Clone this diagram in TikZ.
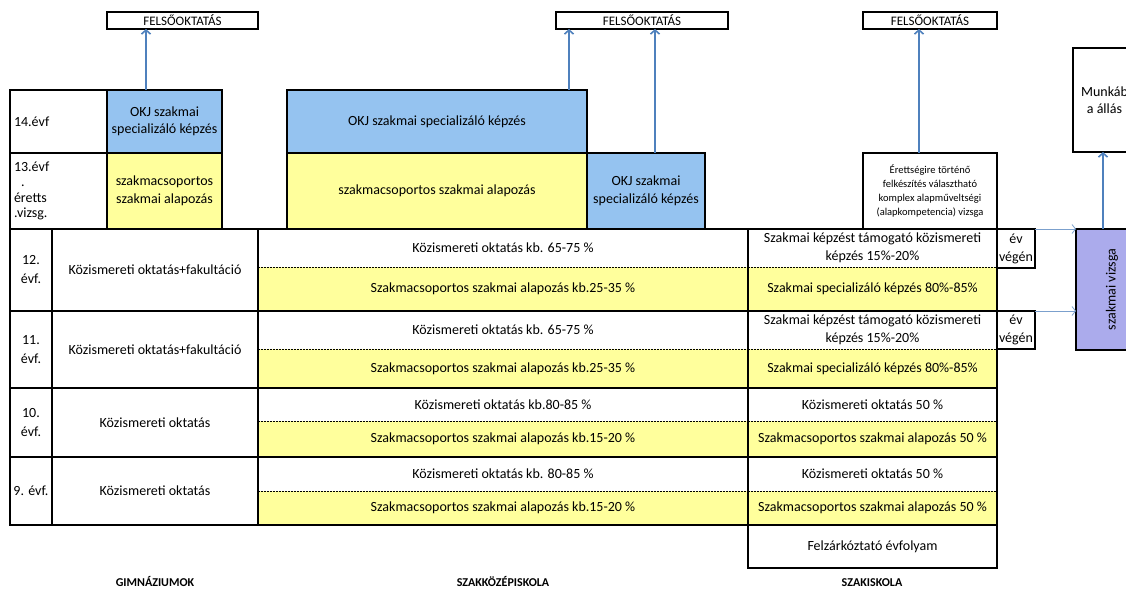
\documentclass[tikz,border=0pt]{standalone}
\usepackage{fontspec}
\setmainfont{Carlito}
\usepackage{xcolor}
\usepackage{tikz}
\usetikzlibrary{arrows.meta}
\definecolor{okjblue}{HTML}{95C3F0}
\definecolor{alapyellow}{HTML}{FFFF9C}
\definecolor{vizsgalila}{HTML}{ABABEC}
\definecolor{nyilkek}{HTML}{4F81BD}
\tikzset{
    cellbox/.style={
        draw,
        line width=1.5pt,
        inner sep=0pt,
        outer sep=0pt,
        align=center,
        anchor=north west,
        font=\fontsize{14}{17.5}\selectfont
    },
    halfcell/.style={
        inner sep=0pt,
        outer sep=0pt,
        align=center,
        anchor=north west,
        minimum width=490pt,
        font=\fontsize{14}{17.5}\selectfont
    },
    felsobox/.style={
        line width=1.1pt,
        minimum height=17pt,
        font=\fontsize{13}{15}\selectfont
    },
    blockframe/.style={line width=1.5pt},
    dotline/.style={line width=0.7pt, dash pattern=on 1.6pt off 1.4pt},
    uparrow/.style={draw=nyilkek, line width=1.6pt, -{Straight Barb[length=4pt,width=9pt]}},
    sidearrow/.style={draw=nyilkek!75, line width=0.8pt, -{Straight Barb[length=3.5pt,width=9pt]}},
    schoolname/.style={anchor=base, font=\fontsize{12}{14}\selectfont\bfseries}
}

\begin{document}
\begin{tikzpicture}[x=1pt, y=-1pt]
\path[use as bounding box, fill=white] (0,0) rectangle (1126,596);

% felsőoktatás
\node[cellbox, felsobox, minimum width=151pt] (fels1) at (107,12) {FELSŐOKTATÁS};
\node[cellbox, felsobox, minimum width=172pt] (fels2) at (556,12) {FELSŐOKTATÁS};
\node[cellbox, felsobox, minimum width=134pt] (fels3) at (863,12) {FELSŐOKTATÁS};

% évfolyamok
\node[cellbox, minimum width=97pt, minimum height=63pt, text width=89pt, align=left] (yr14) at (10,90) {14.évf};
\node[cellbox, minimum width=97pt, minimum height=76pt, text width=89pt, align=left,
    font=\fontsize{14}{15.3}\selectfont] (yr13) at (10,153) {13.évf\\\hspace*{7pt}.\\éretts\\.vizsg.};
\node[cellbox, minimum width=42pt, minimum height=82pt, font=\fontsize{14}{19}\selectfont] (yr12) at (10,229) {12.\\évf.};
\node[cellbox, minimum width=42pt, minimum height=77pt, font=\fontsize{14}{19}\selectfont] (yr11) at (10,311) {11.\\évf.};
\node[cellbox, minimum width=42pt, minimum height=69pt, font=\fontsize{14}{19}\selectfont] (yr10) at (10,388) {10.\\évf.};
\node[cellbox, minimum width=42pt, minimum height=68pt] (yr9) at (10,457) {9. évf.};

% gimnázium
\node[cellbox, fill=okjblue, minimum width=115pt, minimum height=63pt] (gym14) at (107,90) {OKJ szakmai\\specializáló képzés};
\node[cellbox, fill=alapyellow, minimum width=115pt, minimum height=76pt, font=\fontsize{14}{18}\selectfont] (gym13) at (107,153) {szakmacsoportos\\szakmai alapozás};
\node[cellbox, minimum width=206pt, minimum height=82pt] (gym12) at (52,229) {Közismereti oktatás+fakultáció};
\node[cellbox, minimum width=206pt, minimum height=77pt] (gym11) at (52,311) {Közismereti oktatás+fakultáció};
\node[cellbox, minimum width=206pt, minimum height=69pt] (gym10) at (52,388) {Közismereti oktatás};
\node[cellbox, minimum width=206pt, minimum height=68pt] (gym9) at (52,457) {Közismereti oktatás};

% szakközépiskola
\node[cellbox, fill=okjblue, minimum width=300pt, minimum height=63pt] (szk14) at (287,90) {OKJ szakmai specializáló képzés};
\node[cellbox, fill=alapyellow, minimum width=300pt, minimum height=76pt] (szk13) at (287,153) {szakmacsoportos szakmai alapozás};
\node[cellbox, fill=okjblue, minimum width=118pt, minimum height=76pt] (szkokj) at (587,153) {OKJ szakmai\\specializáló képzés};

\node[halfcell, minimum height=38pt] (szk12a) at (258,229) {Közismereti oktatás kb. 65-75 \%};
\node[halfcell, fill=alapyellow, minimum height=44pt] (szk12b) at (258,267) {Szakmacsoportos szakmai alapozás kb.25-35 \%};
\draw[blockframe] (szk12a.north west) rectangle (szk12b.south east);
\draw[dotline] (szk12a.south west) -- (szk12a.south east);

\node[halfcell, minimum height=38pt] (szk11a) at (258,311) {Közismereti oktatás kb. 65-75 \%};
\node[halfcell, fill=alapyellow, minimum height=39pt] (szk11b) at (258,349) {Szakmacsoportos szakmai alapozás kb.25-35 \%};
\draw[blockframe] (szk11a.north west) rectangle (szk11b.south east);
\draw[dotline] (szk11a.south west) -- (szk11a.south east);

\node[halfcell, minimum height=33pt] (szk10a) at (258,388) {Közismereti oktatás kb.80-85 \%};
\node[halfcell, fill=alapyellow, minimum height=36pt] (szk10b) at (258,421) {Szakmacsoportos szakmai alapozás kb.15-20 \%};
\draw[blockframe] (szk10a.north west) rectangle (szk10b.south east);
\draw[dotline] (szk10a.south west) -- (szk10a.south east);

\node[halfcell, minimum height=34pt] (szk9a) at (258,457) {Közismereti oktatás kb. 80-85 \%};
\node[halfcell, fill=alapyellow, minimum height=34pt] (szk9b) at (258,491) {Szakmacsoportos szakmai alapozás kb.15-20 \%};
\draw[blockframe] (szk9a.north west) rectangle (szk9b.south east);
\draw[dotline] (szk9a.south west) -- (szk9a.south east);

% szakiskola
\node[cellbox, minimum width=134pt, minimum height=76pt, font=\fontsize{10.5}{14.3}\selectfont] (eretts) at (863,153)
    {Érettségire történő\\felkészítés választható\\komplex alapműveltségi\\(alapkompetencia) vizsga};

\node[halfcell, minimum width=249pt, minimum height=38pt] (ski12a) at (748,229) {Szakmai képzést támogató közismereti\\képzés 15\%-20\%};
\node[halfcell, minimum width=249pt, fill=alapyellow, minimum height=44pt] (ski12b) at (748,267) {Szakmai specializáló képzés 80\%-85\%};
\draw[blockframe] (ski12a.north west) rectangle (ski12b.south east);
\draw[dotline] (ski12a.south west) -- (ski12a.south east);

\node[halfcell, minimum width=249pt, minimum height=38pt] (ski11a) at (748,311) {Szakmai képzést támogató közismereti\\képzés 15\%-20\%};
\node[halfcell, minimum width=249pt, fill=alapyellow, minimum height=39pt] (ski11b) at (748,349) {Szakmai specializáló képzés 80\%-85\%};
\draw[blockframe] (ski11a.north west) rectangle (ski11b.south east);
\draw[dotline] (ski11a.south west) -- (ski11a.south east);

\node[halfcell, minimum width=249pt, minimum height=33pt] (ski10a) at (748,388) {Közismereti oktatás 50 \%};
\node[halfcell, minimum width=249pt, fill=alapyellow, minimum height=36pt] (ski10b) at (748,421) {Szakmacsoportos szakmai alapozás 50 \%};
\draw[blockframe] (ski10a.north west) rectangle (ski10b.south east);
\draw[dotline] (ski10a.south west) -- (ski10a.south east);

\node[halfcell, minimum width=249pt, minimum height=34pt] (ski9a) at (748,457) {Közismereti oktatás 50 \%};
\node[halfcell, minimum width=249pt, fill=alapyellow, minimum height=34pt] (ski9b) at (748,491) {Szakmacsoportos szakmai alapozás 50 \%};
\draw[blockframe] (ski9a.north west) rectangle (ski9b.south east);
\draw[dotline] (ski9a.south west) -- (ski9a.south east);

\node[cellbox, minimum width=249pt, minimum height=43pt] (felz) at (748,525) {Felzárkóztató évfolyam};

% év végén, vizsga, munka
\node[cellbox, minimum width=38pt, minimum height=39pt, font=\fontsize{14}{18}\selectfont] (evv12) at (997,229) {év\\végén};
\node[cellbox, minimum width=38pt, minimum height=38pt, font=\fontsize{14}{18}\selectfont] (evv11) at (997,311) {év\\végén};
\node[cellbox, fill=vizsgalila, minimum width=72pt, minimum height=121pt] (vizsga) at (1076,229) {};
\node[font=\fontsize{14}{17}\selectfont, rotate=90] (vizsgatext) at (vizsga.center) {szakmai vizsga};
\node[cellbox, minimum width=63pt, minimum height=104pt] (munka) at (1073,48) {Munkáb\\a állás};

% nyilak
\coordinate (up1) at ([xshift=39pt]gym14.north west);
\coordinate (up2) at ([xshift=-18pt]szk14.north east);
\coordinate (up3) at ([xshift=9pt]szkokj.north);
\coordinate (up4) at ([xshift=-11pt]eretts.north);
\coordinate (up5) at ([xshift=-9pt]vizsga.north);
\draw[uparrow] (up1) -- (up1 |- fels1.south);
\draw[uparrow] (up2) -- (up2 |- fels2.south);
\draw[uparrow] (up3) -- (up3 |- fels2.south);
\draw[uparrow] (up4) -- (up4 |- fels3.south);
\draw[uparrow] (up5) -- (up5 |- munka.south);
\draw[sidearrow] (evv12.north east) -- (evv12.north east -| vizsga.west);
\draw[sidearrow] (evv11.north east) -- (evv11.north east -| vizsga.west);

% iskolatípusok
\node[schoolname] (gimn) at (155,586) {GIMNÁZIUMOK};
\node[schoolname] (szakkozep) at (503,586) {SZAKKÖZÉPISKOLA};
\node[schoolname] (szakisk) at (872,586) {SZAKISKOLA};
\end{tikzpicture}
\end{document}
